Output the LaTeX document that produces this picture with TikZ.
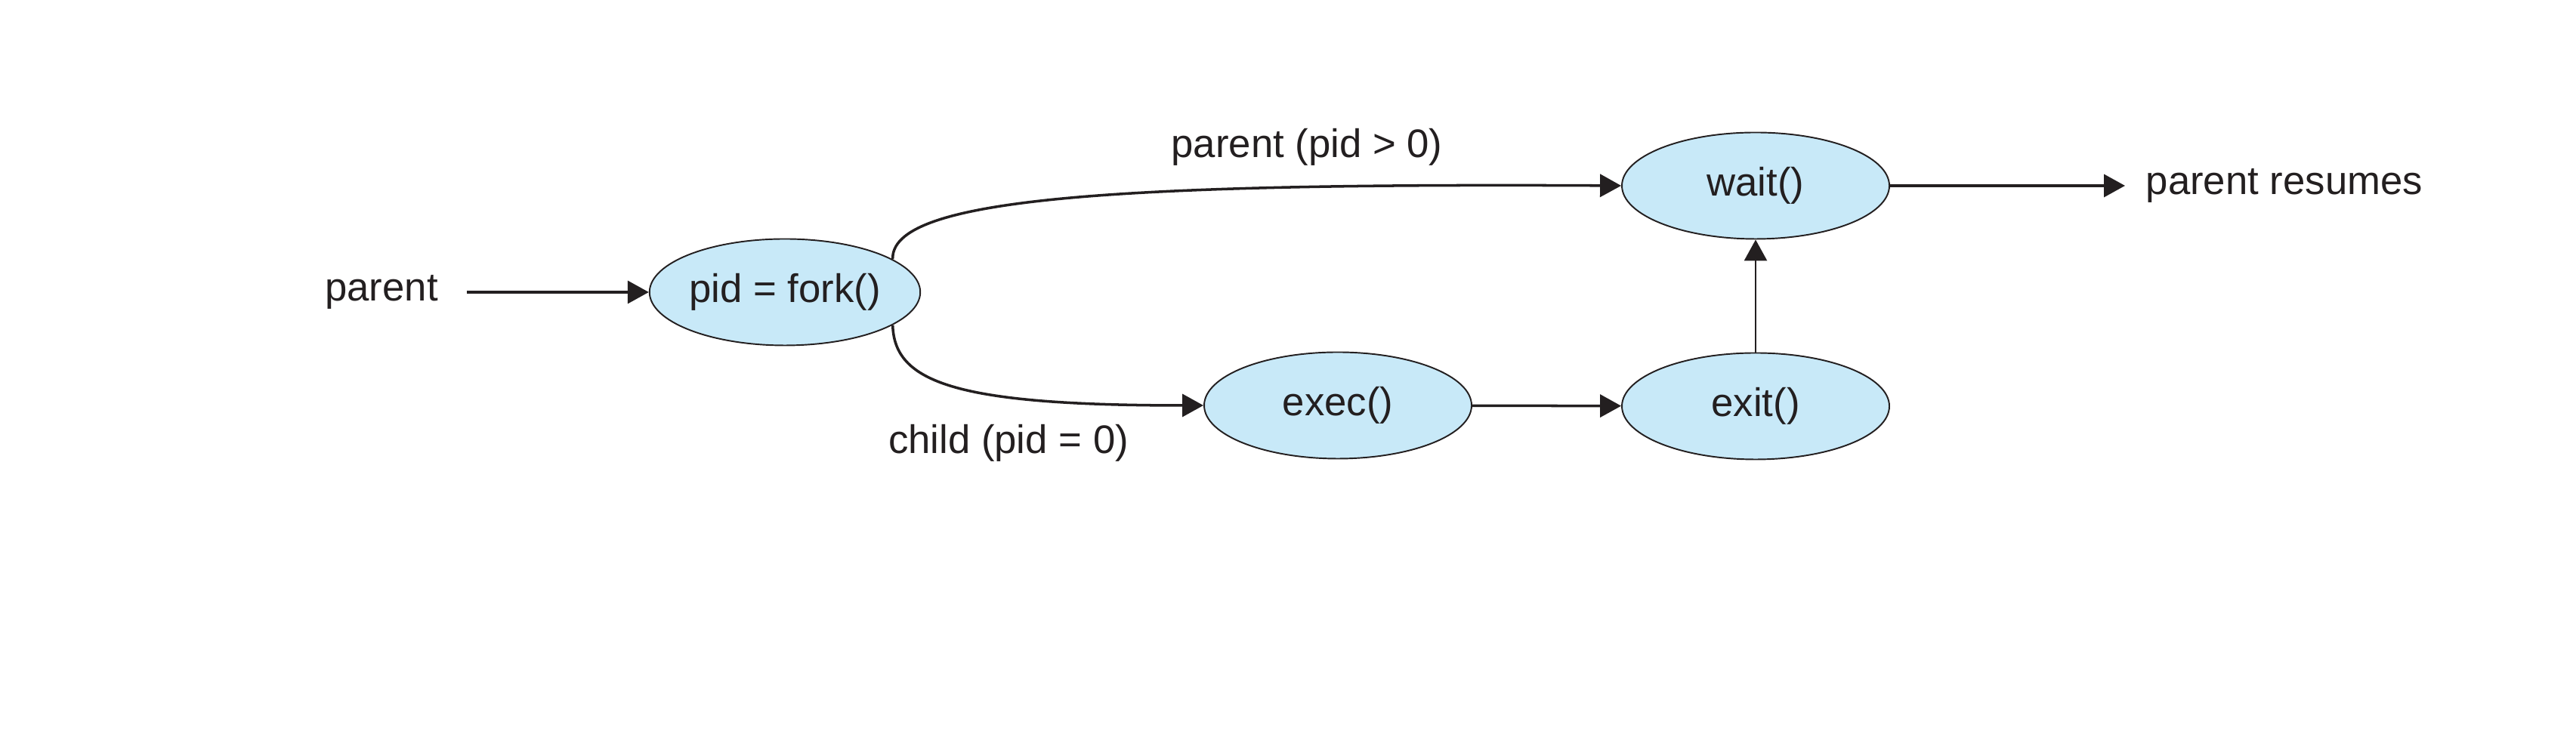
\documentclass[tikz,border=0pt]{standalone}
\usepackage{fontspec}
\setmainfont{Liberation Sans}
\usepackage{tikz}
\usetikzlibrary{shapes.geometric}
\usetikzlibrary{arrows.meta}
\definecolor{callblue}{RGB}{200,233,248}
\definecolor{inkdark}{RGB}{35,31,32}

\begin{document}
\begin{tikzpicture}[
    call/.style={ellipse, draw=inkdark, line width=0.55pt, fill=callblue, minimum width=3.54cm, minimum height=1.41cm, inner sep=0pt, font=\fontsize{15}{18}\selectfont, text=inkdark},
    lbl/.style={inner sep=0pt, font=\fontsize{15}{18}\selectfont, text=inkdark},
    flow/.style={draw=inkdark, line width=1pt, -{Triangle[length=0.28cm, width=0.3cm]}}
  ]
      \useasboundingbox (0, 0) rectangle (34.1, 10);
      \node[call] (fork) at (10.39, 6.13) {pid = fork()};
      \node[call] (wait) at (23.24, 7.54) {wait()};
      \node[call] (exec) at (17.71, 4.63) {exec()};
      \node[call] (exit) at (23.24, 4.62) {exit()};
      \node[lbl] (parent) at (5.05, 6.13) {parent};
      \node[lbl, anchor=west] (resumes) at (28.40, 7.54) {parent resumes};
      \node[lbl] (ppos) at (17.30, 8.05) {parent (pid > 0)};
      \node[lbl] (czero) at (13.35, 4.13) {child (pid = 0)};
      \draw[flow, shorten <=0.38cm] (parent) -- (fork);
      \draw[flow] (fork.17) .. controls (11.79, 7.35) and (14.5, 7.58) .. (wait.west);
      \draw[flow] (fork.-17) .. controls (11.84, 4.95) and (12.6, 4.63) .. (exec.west);
      \draw[flow] (exec) -- (exit);
      \draw[flow, line width=0.8pt] (exit) -- (wait);
      \draw[flow, shorten >=0.27cm] (wait) -- (resumes);
    \end{tikzpicture}
\end{document}
